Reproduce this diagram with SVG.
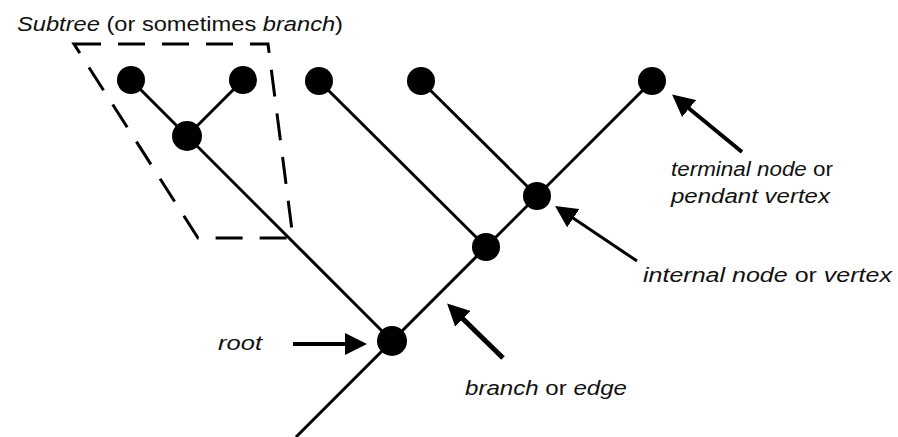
<svg xmlns="http://www.w3.org/2000/svg" width="898" height="437" viewBox="0 0 898 437">
  <style>
    .edge { stroke: #000; stroke-width: 3; fill: none; }
    .node { fill: #000; }
    .ptr { stroke: #000; fill: none; marker-end: url(#head); }
    .box { stroke: #000; stroke-width: 3; fill: none; stroke-dasharray: 27 17; }
    .lbl { font-family: "Liberation Sans", Arial, sans-serif; font-size: 20px; fill: #111; }
    .it { font-style: italic; }
  </style>
  <defs>
    <marker id="head" viewBox="0 0 22 22" refX="4" refY="11" markerWidth="22" markerHeight="22" markerUnits="userSpaceOnUse" orient="auto">
      <path d="M0,0 L22,11 L0,22 z" fill="#000"/>
    </marker>
  </defs>

  <rect width="898" height="437" fill="#fff"/>

  <!-- subtree outline -->
  <path class="box" d="M74,44 L268,44 L293,238 L198,238 Z"/>

  <!-- tree edges -->
  <g id="edges">
    <line class="edge" x1="296" y1="437" x2="652" y2="81"/>
    <line class="edge" x1="131" y1="80" x2="392" y2="341"/>
    <line class="edge" x1="243" y1="80" x2="187" y2="136"/>
    <line class="edge" x1="319" y1="81" x2="486" y2="247"/>
    <line class="edge" x1="421" y1="81" x2="537" y2="196"/>
  </g>

  <!-- nodes -->
  <g id="leaf-a"><circle class="node" cx="131" cy="80" r="14"/></g>
  <g id="leaf-b"><circle class="node" cx="243" cy="80" r="14"/></g>
  <g id="leaf-c"><circle class="node" cx="319" cy="81" r="14"/></g>
  <g id="leaf-d"><circle class="node" cx="421" cy="81" r="14"/></g>
  <g id="leaf-e"><circle class="node" cx="652" cy="81" r="14"/></g>
  <g id="subtree-node"><circle class="node" cx="187" cy="136" r="15"/></g>
  <g id="inner-f"><circle class="node" cx="537" cy="196" r="14"/></g>
  <g id="inner-g"><circle class="node" cx="486" cy="247" r="14"/></g>
  <g id="root"><circle class="node" cx="392" cy="341" r="15"/></g>

  <!-- pointer arrows -->
  <g id="pointers">
    <line class="ptr" stroke-width="4" x1="293" y1="344" x2="349" y2="344"/>
    <line class="ptr" stroke-width="5" x1="503" y1="358" x2="460" y2="316"/>
    <line class="ptr" stroke-width="4" x1="742" y1="152" x2="686" y2="106"/>
    <line class="ptr" stroke-width="3" x1="637" y1="261" x2="570" y2="216"/>
  </g>

  <!-- labels -->
  <g id="labels">
    <text class="lbl" x="17" y="31" textLength="326" lengthAdjust="spacingAndGlyphs"><tspan class="it">Subtree</tspan> (or sometimes <tspan class="it">branch</tspan>)</text>
    <text class="lbl" x="671" y="176" textLength="162" lengthAdjust="spacingAndGlyphs"><tspan class="it">terminal node</tspan> or</text>
    <text class="lbl it" x="671" y="203" textLength="159" lengthAdjust="spacingAndGlyphs">pendant vertex</text>
    <text class="lbl" x="643" y="282" textLength="249" lengthAdjust="spacingAndGlyphs"><tspan class="it">internal node</tspan> or <tspan class="it">vertex</tspan></text>
    <text class="lbl it" x="218" y="350" textLength="44" lengthAdjust="spacingAndGlyphs">root</text>
    <text class="lbl" x="465" y="395" textLength="162" lengthAdjust="spacingAndGlyphs"><tspan class="it">branch</tspan> or <tspan class="it">edge</tspan></text>
  </g>
</svg>
